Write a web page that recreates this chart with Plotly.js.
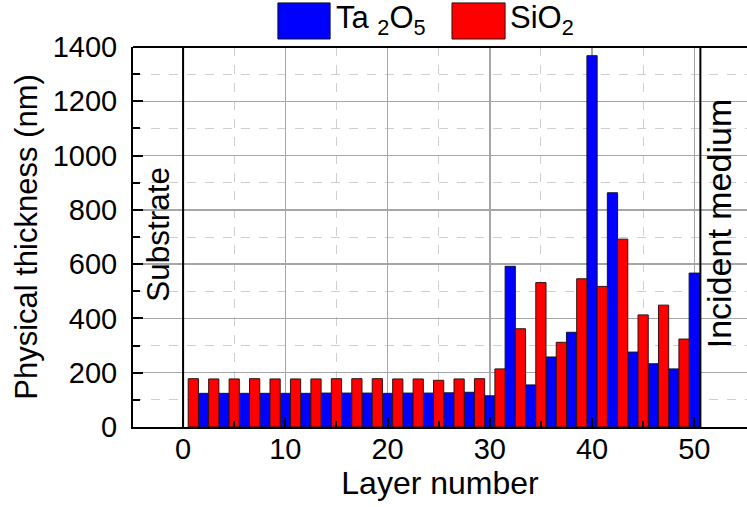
<!DOCTYPE html>
<html>
<head>
<meta charset="utf-8">
<script src="https://cdn.plot.ly/plotly-3.0.1.min.js"></script>
<style>
  html, body { margin: 0; padding: 0; background: #ffffff; }
  #chart { width: 747px; height: 507px; }
</style>
</head>
<body>
<div id="chart"></div>
<script>
// Layer positions in the stack (odd layers SiO2, even layers Ta2O5)
const sio2Layers = [1, 3, 5, 7, 9, 11, 13, 15, 17, 19, 21, 23, 25, 27, 29, 31, 33, 35, 37, 39, 41, 43, 45, 47, 49];
const ta2o5Layers = [2, 4, 6, 8, 10, 12, 14, 16, 18, 20, 22, 24, 26, 28, 30, 32, 34, 36, 38, 40, 42, 44, 46, 48, 50];

// Physical thickness of each layer (nm)
const sio2Thickness = [178, 177, 177, 178, 177, 177, 177, 178, 178, 178, 177, 177, 172, 177, 178,
                       214, 362, 532, 312, 546, 518, 692, 413, 449, 324];
const ta2o5Thickness = [124, 124, 124, 124, 124, 124, 125, 125, 125, 124, 125, 125, 126, 128, 115,
                        592, 155, 258, 349, 1368, 863, 276, 233, 214, 567];

// Axis ticks
const xTickVals = [0, 10, 20, 30, 40, 50];
const xTickText = ['0', '10', '20', '30', '40', '50'];
const xMinorVals = [5, 15, 25, 35, 45];
const yTickVals = [0, 200, 400, 600, 800, 1000, 1200, 1400];
const yTickText = ['0', '200', '400', '600', '800', '1000', '1200', '1400'];
const yMinorVals = [100, 300, 500, 700, 900, 1100, 1300];

const FONT = 'Liberation Sans, Arial, Helvetica, sans-serif';
const X_MIN = -4.9, X_MAX = 55.16, STACK_END = 50.6;

const traces = [
  {
    type: 'bar', name: 'Ta2O5', x: ta2o5Layers, y: ta2o5Thickness, width: 1,
    marker: { color: '#0000FF', line: { color: '#111133', width: 1 } },
    showlegend: false, hoverinfo: 'x+y'
  },
  {
    type: 'bar', name: 'SiO2', x: sio2Layers, y: sio2Thickness, width: 1,
    marker: { color: '#FF0000', line: { color: '#331111', width: 1 } },
    showlegend: false, hoverinfo: 'x+y'
  }
];

const gridMajor = '#a6a6a6';
const gridMinor = '#cfcfcf';

const layout = {
  width: 747, height: 507,
  margin: { l: 133, r: 0, t: 47, b: 80, pad: 0 },
  paper_bgcolor: '#ffffff', plot_bgcolor: '#ffffff',
  barmode: 'overlay',
  showlegend: false,
  font: { family: FONT, color: '#000000', size: 29 },
  xaxis: {
    range: [X_MIN, X_MAX], fixedrange: true,
    tickmode: 'array', tickvals: xTickVals, ticktext: xTickText,
    ticks: 'inside', ticklen: 10, tickwidth: 2, tickcolor: '#000',
    ticklabelstandoff: -5,
    tickfont: { family: FONT, size: 29, color: '#000' },
    showline: true, linecolor: '#000', linewidth: 2,
    showgrid: true, gridcolor: gridMajor, gridwidth: 1.5,
    zeroline: false,
    minor: {
      tickmode: 'array', tickvals: xMinorVals,
      ticks: 'inside', ticklen: 6, tickwidth: 2, tickcolor: '#000',
      showgrid: true, gridcolor: gridMinor, gridwidth: 1, griddash: 'dash'
    },
    title: { text: 'Layer number', font: { family: FONT, size: 32, color: '#000' }, standoff: 6 }
  },
  yaxis: {
    range: [0, 1400], fixedrange: true,
    tickmode: 'array', tickvals: yTickVals, ticktext: yTickText,
    ticks: 'inside', ticklen: 10, tickwidth: 2, tickcolor: '#000',
    ticklabelstandoff: 8,
    tickfont: { family: FONT, size: 29, color: '#000' },
    showline: true, linecolor: '#000', linewidth: 2,
    showgrid: true, gridcolor: gridMajor, gridwidth: 1.5,
    zeroline: false,
    minor: {
      tickmode: 'array', tickvals: yMinorVals,
      ticks: 'inside', ticklen: 7, tickwidth: 2, tickcolor: '#000',
      showgrid: true, gridcolor: gridMinor, gridwidth: 1, griddash: 'dash'
    },
    title: { text: 'Physical thickness (nm)', font: { family: FONT, size: 31, color: '#000' }, standoff: 6 }
  },
  shapes: [
    // blank substrate and incident-medium panels (hide the grid there)
    { type: 'rect', xref: 'x', yref: 'paper', x0: X_MIN, x1: 0, y0: 0, y1: 1,
      fillcolor: '#ffffff', line: { width: 0 }, layer: 'between' },
    { type: 'rect', xref: 'x', yref: 'paper', x0: STACK_END, x1: X_MAX, y0: 0, y1: 1,
      fillcolor: '#ffffff', line: { width: 0 }, layer: 'between' },
    // interface lines
    { type: 'line', xref: 'x', yref: 'paper', x0: 0, x1: 0, y0: 0, y1: 1,
      line: { color: '#000', width: 2 }, layer: 'above' },
    { type: 'line', xref: 'x', yref: 'paper', x0: STACK_END, x1: STACK_END, y0: 0, y1: 1,
      line: { color: '#000', width: 2 }, layer: 'above' },
    // top frame
    { type: 'line', xref: 'paper', yref: 'paper', x0: 0, x1: 1, y0: 1, y1: 1,
      line: { color: '#000', width: 2 }, layer: 'above' },
    // legend swatches
    { type: 'rect', xref: 'paper', yref: 'paper', x0: 0.236, x1: 0.321, y0: 1.021, y1: 1.116,
      fillcolor: '#0000FF', line: { color: '#111133', width: 1 } },
    { type: 'rect', xref: 'paper', yref: 'paper', x0: 0.5195, x1: 0.606, y0: 1.021, y1: 1.116,
      fillcolor: '#FF0000', line: { color: '#331111', width: 1 } }
  ],
  annotations: [
    { xref: 'paper', yref: 'paper', x: 0.328, y: 1.07, xanchor: 'left', yanchor: 'middle',
      text: 'Ta <sub>2</sub>O<sub>5</sub>', showarrow: false,
      font: { family: FONT, size: 31, color: '#000' } },
    { xref: 'paper', yref: 'paper', x: 0.611, y: 1.07, xanchor: 'left', yanchor: 'middle',
      text: 'SiO<sub>2</sub>', showarrow: false,
      font: { family: FONT, size: 31, color: '#000' } },
    { xref: 'x', yref: 'y', x: -2.4, y: 710, text: 'Substrate', textangle: -90,
      showarrow: false, xanchor: 'center', yanchor: 'middle',
      font: { family: FONT, size: 31.5, color: '#000' } },
    { xref: 'x', yref: 'y', x: 52.5, y: 750, text: 'Incident medium', textangle: -90,
      showarrow: false, xanchor: 'center', yanchor: 'middle',
      font: { family: FONT, size: 34, color: '#000' } }
  ]
};

Plotly.newPlot('chart', traces, layout, { staticPlot: true, displayModeBar: false });
</script>
</body>
</html>
